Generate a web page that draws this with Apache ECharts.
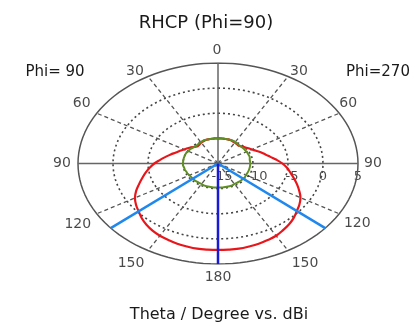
<!DOCTYPE html>
<html><head><meta charset="utf-8">
<script src="https://cdn.jsdelivr.net/npm/echarts@6/dist/echarts.min.js"></script>
<style>html,body{margin:0;padding:0;background:#fff}#c{width:419px;height:327px}</style>
</head><body><div id="c"></div>
<script>
// ---- data (theta in degrees, gain in dBi) ----
const thetaDeg   = [0,5,10,15,20,25,30,35,40,45,50,55,60,65,70,75,80,85,90,95,100,105,110,115,120,125,130,135,140,145,150,155,160,165,170,175,180];
const rhcpPhi90  = [-10.0,-10.0,-10.0,-10.0,-10.0,-10.1,-10.2,-10.4,-10.5,-10.3,-10.0,-9.7,-9.4,-9.0,-8.6,-8.0,-7.4,-6.7,-5.9,-5.2,-4.5,-3.8,-3.0,-2.1,-1.3,-0.7,-0.2,0.4,0.9,1.3,1.6,1.8,2.0,2.1,2.2,2.2,2.2];
const rhcpPhi270 = [-10.0,-10.0,-10.0,-10.0,-10.0,-10.1,-10.2,-10.3,-10.4,-10.2,-10.0,-9.7,-9.4,-9.0,-8.5,-8.0,-7.4,-6.6,-5.8,-5.1,-4.5,-3.8,-3.0,-2.2,-1.4,-0.8,-0.3,0.3,0.8,1.2,1.6,1.8,2.0,2.1,2.2,2.2,2.2];
const lhcpPhi90  = [-10.0,-10.0,-10.0,-10.0,-10.0,-10.0,-10.1,-10.2,-10.3,-10.3,-10.2,-10.1,-10.1,-10.0,-10.0,-10.0,-10.0,-10.0,-10.0,-10.0,-10.1,-10.1,-10.2,-10.2,-10.3,-10.3,-10.3,-10.3,-10.3,-10.3,-10.3,-10.2,-10.2,-10.2,-10.2,-10.2,-10.2];
const lhcpPhi270 = [-10.0,-10.0,-10.0,-10.0,-10.0,-10.0,-10.1,-10.2,-10.3,-10.3,-10.3,-10.3,-10.3,-10.3,-10.3,-10.3,-10.4,-10.4,-10.4,-10.4,-10.4,-10.4,-10.4,-10.4,-10.4,-10.3,-10.3,-10.3,-10.3,-10.3,-10.3,-10.2,-10.2,-10.2,-10.2,-10.2,-10.2];
const angleTicks  = [0,30,60,90,120,150,180];
const spokeAngles = [30,60,120,150];
const radialTicks = [-15,-10,-5,0,5];
const ringValues  = [-10,-5,0];
const beamEdgeDeg = 130;
const beamCenterDeg = 180;
const rMin = -15, rMax = 5;
const titleText = 'RHCP (Phi=90)';
const leftLabel = 'Phi= 90', rightLabel = 'Phi=270';
const footText = 'Theta / Degree vs. dBi';

// ---- helpers ----
const R = rMax - rMin;
const rad = d => d * Math.PI / 180;
function pt(side, th, db) { const r = db - rMin; return [side * r * Math.sin(rad(th)), r * Math.cos(rad(th))]; }
function ring(db) { const a = []; for (let t = 0; t <= 360; t += 3) a.push(pt(1, t, db)); return a; }
function closedCurve(leftVals, rightVals) {
  const a = [];
  thetaDeg.forEach((t, i) => a.push(pt(-1, t, leftVals[i])));
  for (let i = thetaDeg.length - 2; i >= 0; i--) a.push(pt(1, thetaDeg[i], rightVals[i]));
  return a;
}
const txt = '#1a1a1a';
const series = [];
ringValues.forEach(v => series.push({type:'line', data: ring(v), showSymbol:false, silent:true,
  lineStyle:{color:'#444', width:1.6, type:[2,3]}}));
spokeAngles.forEach(a => [-1,1].forEach(s => series.push({type:'line', showSymbol:false, silent:true,
  data:[pt(s,a,rMin), pt(s,a,rMax)], lineStyle:{color:'#555', width:1.3, type:[4,3]}})));
series.push({type:'line', data: ring(rMax), showSymbol:false, lineStyle:{color:'#555', width:1.5}});
series.push({type:'line', data:[pt(-1,90,rMax), pt(1,90,rMax)], showSymbol:false, lineStyle:{color:'#666', width:1.5}});
series.push({type:'line', data:[pt(1,0,rMin), pt(1,0,rMax)], showSymbol:false, lineStyle:{color:'#666', width:1.5}});
series.push({type:'line', data: closedCurve(rhcpPhi90, rhcpPhi270), smooth:0.4, showSymbol:false,
  lineStyle:{color:'#e8161b', width:2.2}});
series.push({type:'line', data: closedCurve(lhcpPhi90, lhcpPhi270), smooth:0.4, showSymbol:false,
  lineStyle:{color:'#5f8f22', width:2}});
[-1,1].forEach(s => series.push({type:'line', showSymbol:false, data:[pt(s,beamEdgeDeg,rMin), pt(s,beamEdgeDeg,rMax)],
  lineStyle:{color:'#1e88ee', width:2.5}}));
series.push({type:'line', showSymbol:false, data:[pt(1,beamCenterDeg,rMin), pt(1,beamCenterDeg,rMax)],
  lineStyle:{color:'#1a1ad6', width:2.5}});

// angle labels
const offL = {0:[-1,-13],30:[-13,-5],60:[-15,-10],90:[-16,0],120:[-19,11],150:[-17,13],180:[0,13]};
const offR = {30:[11,-5],60:[9,-10],90:[15,0],120:[18,10],150:[17,13]};
const lab = [];
angleTicks.forEach(a => {
  lab.push({value: pt(-1,a,rMax), name: String(a), label:{offset: offL[a]}});
  if (offR[a]) lab.push({value: pt(1,a,rMax), name: String(a), label:{offset: offR[a]}});
});
radialTicks.forEach(v => lab.push({value: pt(1,90,v), name: String(v), label:{offset:[v < 0 ? 4 : 0, 13], fontSize:13}}));
series.push({type:'scatter', data: lab, symbolSize:0, silent:true,
  label:{show:true, position:'inside', formatter: p => p.name, color:txt, fontSize:14, fontFamily:'DejaVu Sans'}});

const chart = echarts.init(document.getElementById('c'), null, {renderer:'canvas'});
const ts = (t, x, y, s) => ({type:'text', x, y, style:{text:t, fontSize:s, fontFamily:'DejaVu Sans', fill:txt, textAlign:'center', textVerticalAlign:'middle'}});
chart.setOption({
  animation:false,
  grid:{left:78, top:63, width:280, height:201},
  xAxis:{type:'value', min:-R, max:R, show:false},
  yAxis:{type:'value', min:-R, max:R, show:false},
  graphic:[ ts(titleText,206,23,18), ts(leftLabel,55,72,15), ts(rightLabel,378,72,15), ts(footText,219,315,16) ],
  series: series
});
</script></body></html>
